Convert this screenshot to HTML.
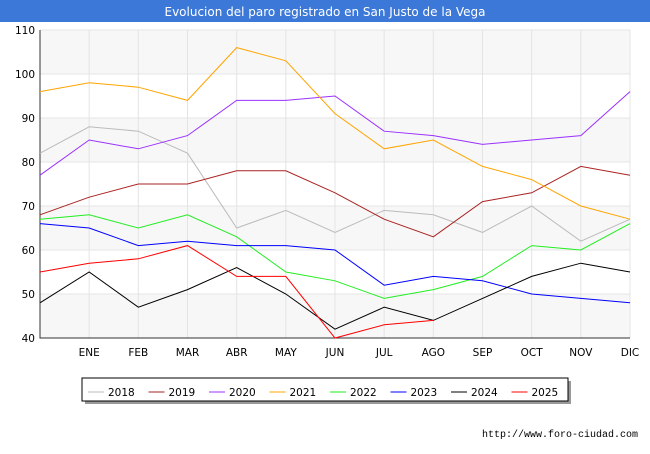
<!DOCTYPE html>
<html><head><meta charset="utf-8"><style>
body{margin:0;width:650px;height:450px;background:#fff;font-family:"DejaVu Sans","Liberation Sans",sans-serif;overflow:hidden}
</style></head><body>
<svg id="c" width="650" height="450" xmlns="http://www.w3.org/2000/svg" font-family="DejaVu Sans, Liberation Sans, sans-serif">
<rect x="0" y="0" width="650" height="22" fill="#3b78d8"/>
<text x="325" y="16" text-anchor="middle" font-size="12" fill="#fff">Evolucion del paro registrado en San Justo de la Vega</text>
<g id="plot"></g>
<text x="638" y="437" text-anchor="end" font-size="10" font-family="Liberation Mono, monospace" fill="#000">http://www.foro-ciudad.com</text>
</svg>
<script>
const months=["","ENE","FEB","MAR","ABR","MAY","JUN","JUL","AGO","SEP","OCT","NOV","DIC"];
const yTicks=[40,50,60,70,80,90,100,110];
const seriesNames=["2018","2019","2020","2021","2022","2023","2024","2025"];
const colors=["#bbbbbb","#aa2222","#9b30ff","#ffa500","#22ee22","#0000ff","#000000","#ff0000"];
const s2018=[82,88,87,82,65,69,64,69,68,64,70,62,67];
const s2019=[68,72,75,75,78,78,73,67,63,71,73,79,77];
const s2020=[77,85,83,86,94,94,95,87,86,84,85,86,96];
const s2021=[96,98,97,94,106,103,91,83,85,79,76,70,67];
const s2022=[67,68,65,68,63,55,53,49,51,54,61,60,66];
const s2023=[66,65,61,62,61,61,60,52,54,53,50,49,48];
const s2024=[48,55,47,51,56,50,42,47,44,49,54,57,55];
const s2025=[55,57,58,61,54,54,40,43,44];
const data=[s2018,s2019,s2020,s2021,s2022,s2023,s2024,s2025];
const NS="http://www.w3.org/2000/svg";
const L=40,R=630,T=30,B=338,ymin=40,ymax=110;
const xs=i=>L+i*(R-L)/12;
const ys=v=>B-(v-ymin)*(B-T)/(ymax-ymin);
const g=document.getElementById('plot');
function el(t,a){const e=document.createElementNS(NS,t);for(const k in a)e.setAttribute(k,a[k]);g.appendChild(e);return e;}
for(let i=0;i<yTicks.length-1;i++){
 if((yTicks.length-2-i)%2===0){
  const r=el('rect',{x:L,y:ys(yTicks[i+1]),width:R-L,height:ys(yTicks[i])-ys(yTicks[i+1]),fill:'#f7f7f7'});
  
  
 }
}
yTicks.forEach(v=>{
 const ln=el('line',{x1:L,x2:R,y1:ys(v),y2:ys(v),stroke:'#e4e4e4','stroke-width':1});
 
 
 const t=el('text',{x:L-5,y:ys(v)+4,'text-anchor':'end','font-size':10.5,fill:'#000'});
 t.textContent=v;
 
 
});
months.forEach((m,i)=>{
 if(i>0){const ln=el('line',{x1:xs(i),x2:xs(i),y1:T,y2:B,stroke:'#e4e4e4','stroke-width':1});
 
 }
 const t=el('text',{x:xs(i),y:356,'text-anchor':'middle','font-size':10.5,fill:'#000'});
 t.textContent=m;
 
 
});
const ax=el('path',{d:`M${L},${T}V${B}H${R}`,fill:'none',stroke:'#333','stroke-width':1});


data.forEach((s,k)=>{
 const p=el('polyline',{points:s.map((v,i)=>xs(i)+','+ys(v)).join(' '),fill:'none',stroke:colors[k],'stroke-width':1});
 
 
});
const sh=el('rect',{x:85,y:381,width:486,height:23,fill:'#999'});


const lb=el('rect',{x:82,y:378,width:486,height:23,fill:'#fff',stroke:'#000','stroke-width':1});


seriesNames.forEach((n,k)=>{
 const x0=88+k*60.5;
 const ln=el('line',{x1:x0,x2:x0+16,y1:392,y2:392,stroke:colors[k],'stroke-width':1});
 
 
 const t=el('text',{x:x0+20,y:396,'font-size':10.5,fill:'#000'});
 t.textContent=n;
 
 
});
</script>
</body></html>
